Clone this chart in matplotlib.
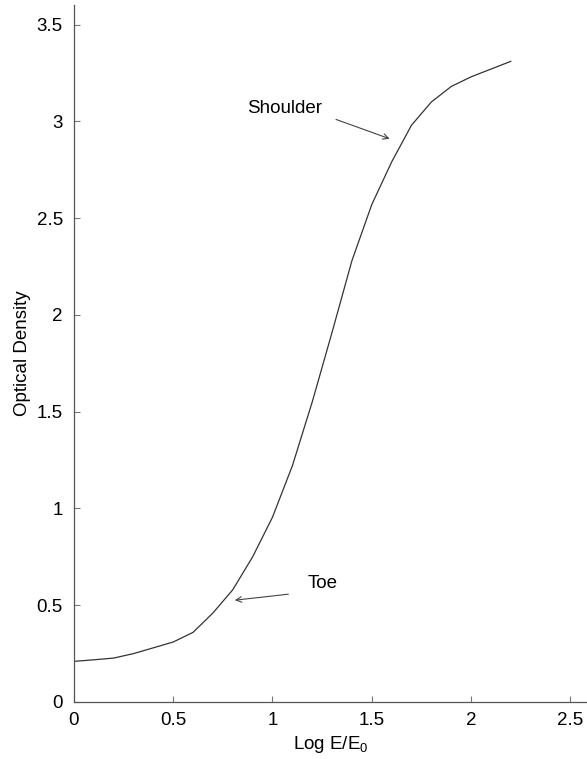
import numpy as np
import matplotlib
matplotlib.use("Agg")
import matplotlib.pyplot as plt

plt.rcParams["font.family"] = ["Liberation Sans", "DejaVu Sans"]
plt.rcParams["mathtext.default"] = "regular"

# characteristic (H&D) curve
log_exposure = [0.0, 0.1, 0.2, 0.3, 0.4, 0.5, 0.6, 0.7, 0.8, 0.9, 1.0, 1.1,
                1.2, 1.3, 1.4, 1.5, 1.6, 1.7, 1.8, 1.9, 2.0, 2.1, 2.2]
density = [0.21, 0.218, 0.227, 0.25, 0.28, 0.31, 0.36, 0.46, 0.58, 0.75, 0.955, 1.22,
           1.55, 1.91, 2.28, 2.57, 2.79, 2.98, 3.10, 3.18, 3.23, 3.27, 3.31]
x_ticks = [0, 0.5, 1, 1.5, 2, 2.5]
y_ticks = [0, 0.5, 1, 1.5, 2, 2.5, 3, 3.5]
x_ticklabels = ["0", "0.5", "1", "1.5", "2", "2.5"]
y_ticklabels = ["0", "0.5", "1", "1.5", "2", "2.5", "3", "3.5"]

fig = plt.figure(figsize=(5.87, 7.59), dpi=100)
ax = fig.add_axes([0.126, 0.0751, 0.876, 0.918])

ax.plot(log_exposure, density, color="#333333", lw=0.9)

ax.set_xlim(0, 2.59)
ax.set_ylim(0, 3.6)
ax.set_xticks(x_ticks)
ax.set_xticklabels(x_ticklabels)
ax.set_yticks(y_ticks)
ax.set_yticklabels(y_ticklabels)
ax.tick_params(direction="in", length=4, width=0.8, color="#777777",
               labelsize=13.5, pad=8)
ax.tick_params(axis="x", pad=7)

for side in ["top", "right"]:
    ax.spines[side].set_visible(False)
for side in ["left", "bottom"]:
    ax.spines[side].set_color("#555555")
    ax.spines[side].set_linewidth(0.9)

ax.set_xlabel("Log E/E$_0$", fontsize=13.5, labelpad=4)
ax.set_ylabel("Optical Density", fontsize=13.5, labelpad=4)

arrow = dict(arrowstyle="->", color="#444444", lw=0.8, shrinkA=0, shrinkB=0)
ax.text(1.06, 3.065, "Shoulder", fontsize=13.5, ha="center", va="center")
ax.annotate("", xy=(1.59, 2.91), xytext=(1.32, 3.01), arrowprops=arrow)
ax.annotate("", xy=(0.81, 0.526), xytext=(1.08, 0.557), arrowprops=arrow)
ax.text(1.25, 0.614, "Toe", fontsize=13.5, ha="center", va="center")

fig.savefig("out.png", dpi=100)
